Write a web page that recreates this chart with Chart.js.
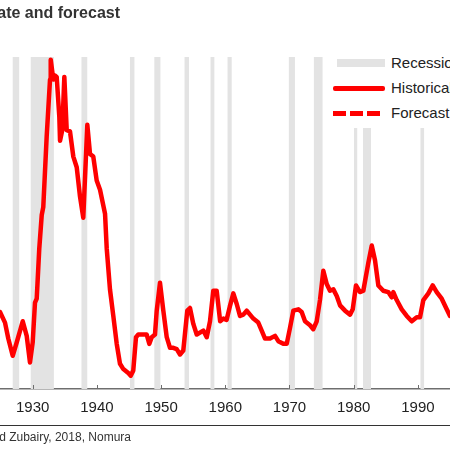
<!DOCTYPE html>
<html>
<head>
<meta charset="utf-8">
<script src="https://cdn.jsdelivr.net/npm/chart.js@4.4.1/dist/chart.umd.min.js"></script>
<style>
  html, body { margin: 0; padding: 0; background: #fff; }
  #wrap { position: relative; width: 450px; height: 450px; overflow: hidden; font-family: "Liberation Sans", Arial, sans-serif; }
  #chart { position: absolute; left: 0; top: 0; }
  #title { position: absolute; right: 330px; top: 4px; line-height: 18px; white-space: nowrap; font-weight: bold; font-size: 16px; color: #333; }
  #source { position: absolute; right: 319px; top: 430px; line-height: 14px; white-space: nowrap; font-size: 12px; color: #333; }
  #rule { position: absolute; left: 0; top: 425px; width: 450px; border-top: 1.5px solid #333; }
  #legend { position: absolute; left: 332px; top: 50px; width: 140px; height: 78px; background: #fff; }
  .row { position: absolute; left: 0; width: 140px; height: 18px; }
  .row span.txt { position: absolute; left: 59px; top: 0; line-height: 18px; font-size: 15px; color: #222; white-space: nowrap; }
  .sw { position: absolute; }
</style>
</head>
<body>
<div id="wrap">
  <canvas id="chart" width="450" height="450"></canvas>
  <div id="title">US unemployment rate and forecast</div>
  <div id="legend">
    <div class="row" style="top:4px"><span class="sw" style="left:5px;top:5px;width:48px;height:8px;background:#e3e3e3"></span><span class="txt">Recession</span></div>
    <div class="row" style="top:29px"><span class="sw" style="left:1px;top:7px;width:52px;height:4.5px;background:#ff0000;border-radius:2px"></span><span class="txt">Historical</span></div>
    <div class="row" style="top:54px"><span class="sw" style="left:1px;top:7px;width:48px;height:4.5px;background:repeating-linear-gradient(to right,#ff0000 0 13px,transparent 13px 17px)"></span><span class="txt">Forecast</span></div>
  </div>
  <div id="rule"></div>
  <div id="source">Source: Ramey and Zubairy, 2018, Nomura</div>
</div>
<script>
// quarterly-ish unemployment rate (%)
var histYears = [1924.91, 1925.69, 1926.2, 1926.89, 1927.51, 1928.45, 1929.07, 1929.58, 1930.0, 1930.36,
  1930.63, 1931.03, 1931.41, 1931.65, 1932.18, 1932.7, 1932.81, 1933.21, 1933.48, 1933.74,
  1934.15, 1934.26, 1934.61, 1934.93, 1935.3, 1935.81, 1936.33, 1936.86, 1937.37, 1937.88,
  1938.51, 1938.93, 1939.44, 1939.97, 1940.49, 1941.27, 1941.53, 1942.04, 1942.56, 1943.09,
  1943.6, 1944.12, 1944.89, 1945.27, 1945.67, 1946.09, 1946.45, 1947.76, 1948.17, 1948.54,
  1949.05, 1949.32, 1949.83, 1950.35, 1950.88, 1951.39, 1951.9, 1952.43, 1952.95, 1953.46,
  1954.08, 1954.5, 1955.02, 1955.55, 1956.58, 1957.11, 1957.62, 1958.13, 1958.66, 1959.2,
  1959.7, 1960.2, 1960.7, 1961.25, 1961.78, 1962.29, 1962.81, 1963.34, 1963.85, 1964.37,
  1965.14, 1965.67, 1966.19, 1966.97, 1967.75, 1968.26, 1969.04, 1969.57, 1970.08, 1970.6,
  1971.38, 1971.9, 1972.42, 1973.2, 1973.71, 1974.24, 1974.75, 1975.27, 1975.8, 1976.31,
  1976.83, 1977.36, 1977.87, 1978.65, 1979.43, 1979.85, 1980.36, 1980.98, 1981.5, 1982.28,
  1982.81, 1983.32, 1983.84, 1984.61, 1985.39, 1985.92, 1986.17, 1986.7, 1987.48, 1988.26,
  1989.04, 1989.82, 1990.33, 1990.85, 1991.63, 1992.31, 1992.93, 1993.71, 1994.49, 1995.0];
var histRate = [5.8, 5.0, 3.8, 2.5, 3.5, 5.1, 4.0, 2.0, 3.5, 6.5,
  6.8, 10.6, 13.1, 13.7, 19.0, 23.3, 24.8, 23.3, 23.6, 23.5,
  20.5, 18.7, 19.5, 23.5, 19.5, 19.4, 17.5, 16.7, 14.5, 12.9,
  19.9, 17.7, 17.5, 15.7, 15.0, 13.2, 10.6, 7.5, 5.5, 3.4,
  1.9, 1.5, 1.2, 1.0, 1.4, 3.9, 4.1, 4.1, 3.4, 3.9,
  4.1, 5.9, 8.0, 5.9, 3.9, 3.1, 3.1, 3.0, 2.6, 2.9,
  5.9, 6.1, 4.9, 4.1, 4.4, 3.9, 5.1, 7.4, 7.4, 5.1,
  5.3, 5.2, 6.2, 7.2, 6.4, 5.5, 5.6, 5.9, 5.6, 5.3,
  5.0, 4.4, 3.8, 3.8, 4.0, 3.6, 3.4, 3.4, 4.6, 5.9,
  6.0, 5.8, 5.1, 4.8, 4.5, 5.1, 6.7, 8.9, 7.9, 7.4,
  7.5, 7.0, 6.3, 5.9, 5.6, 6.0, 7.8, 7.3, 7.4, 9.5,
  10.8, 9.7, 7.8, 7.4, 7.3, 6.9, 7.3, 6.7, 6.0, 5.5,
  5.1, 5.4, 5.4, 6.7, 7.2, 7.8, 7.3, 6.8, 6.0, 5.5];
var forecastYears = [];
var forecastRate = [];

var recessionStart = [1926.85, 1929.7, 1937.6, 1945.15, 1948.95, 1953.65, 1957.7, 1960.35, 1969.9, 1973.8, 1980.05, 1981.45, 1990.4];
var recessionEnd   = [1927.9, 1933.3, 1938.5, 1945.85, 1949.9, 1954.35, 1958.3, 1961.0, 1970.85, 1975.15, 1980.55, 1982.7, 1991.0];

var tickYears = [1930, 1940, 1950, 1960, 1970, 1980, 1990];

var yMin = 0, yMax = 25;
var xMin = 1924.91, xMax = 1995.0;

// recession shading as one filled step line
var recessionPts = [];
for (var i = 0; i < recessionStart.length; i++) {
  recessionPts.push({x: recessionStart[i], y: yMin});
  recessionPts.push({x: recessionStart[i], y: yMax});
  recessionPts.push({x: recessionEnd[i], y: yMax});
  recessionPts.push({x: recessionEnd[i], y: yMin});
}

var innerTicks = {
  id: 'innerTicks',
  afterDatasetsDraw: function(chart) {
    var xs = chart.scales.x, ctx = chart.ctx, bottom = chart.chartArea.bottom;
    ctx.save();
    ctx.strokeStyle = '#6e6e6e';
    ctx.lineWidth = 1;
    xs.ticks.forEach(function(t) {
      var px = Math.round(xs.getPixelForValue(t.value)) + 0.5;
      ctx.beginPath();
      ctx.moveTo(px, bottom);
      ctx.lineTo(px, bottom - 4);
      ctx.stroke();
    });
    ctx.restore();
  }
};

var ctx = document.getElementById('chart').getContext('2d');
var myChart = new Chart(ctx, {
  type: 'line',
  data: {
    datasets: [{
      label: 'Historical',
      data: histYears.map(function(x, i) { return {x: x, y: histRate[i]}; }),
      borderColor: '#ff0000',
      borderWidth: 4.5,
      borderJoinStyle: 'round',
      borderCapStyle: 'round',
      pointRadius: 0,
      tension: 0,
      fill: false
    }, {
      label: 'Forecast',
      data: forecastYears.map(function(x, i) { return {x: x, y: forecastRate[i]}; }),
      borderColor: '#ff0000',
      borderWidth: 4.5,
      borderDash: [13, 4],
      pointRadius: 0,
      fill: false
    }, {
      label: 'Recession',
      data: recessionPts,
      borderColor: 'rgba(0,0,0,0)',
      borderWidth: 0,
      backgroundColor: '#e3e3e3',
      pointRadius: 0,
      tension: 0,
      fill: 'origin'
    }]
  },
  options: {
    responsive: false,
    animation: false,
    layout: { padding: { top: 57, bottom: 23, left: 0, right: 0 } },
    plugins: { legend: { display: false }, tooltip: { enabled: false } },
    scales: {
      x: {
        type: 'linear',
        min: xMin,
        max: xMax,
        afterBuildTicks: function(scale) {
          scale.ticks = tickYears.map(function(v) { return {value: v}; });
        },
        grid: { display: false, drawTicks: false },
        border: { display: true, color: '#6e6e6e', width: 1.5 },
        ticks: {
          autoSkip: false,
          maxRotation: 0,
          padding: 10,
          color: '#222',
          font: { family: '"Liberation Sans", Arial, sans-serif', size: 15 },
          callback: function(v) { return String(v); }
        }
      },
      y: { display: false, min: yMin, max: yMax }
    }
  },
  plugins: [innerTicks]
});
</script>
</body>
</html>
